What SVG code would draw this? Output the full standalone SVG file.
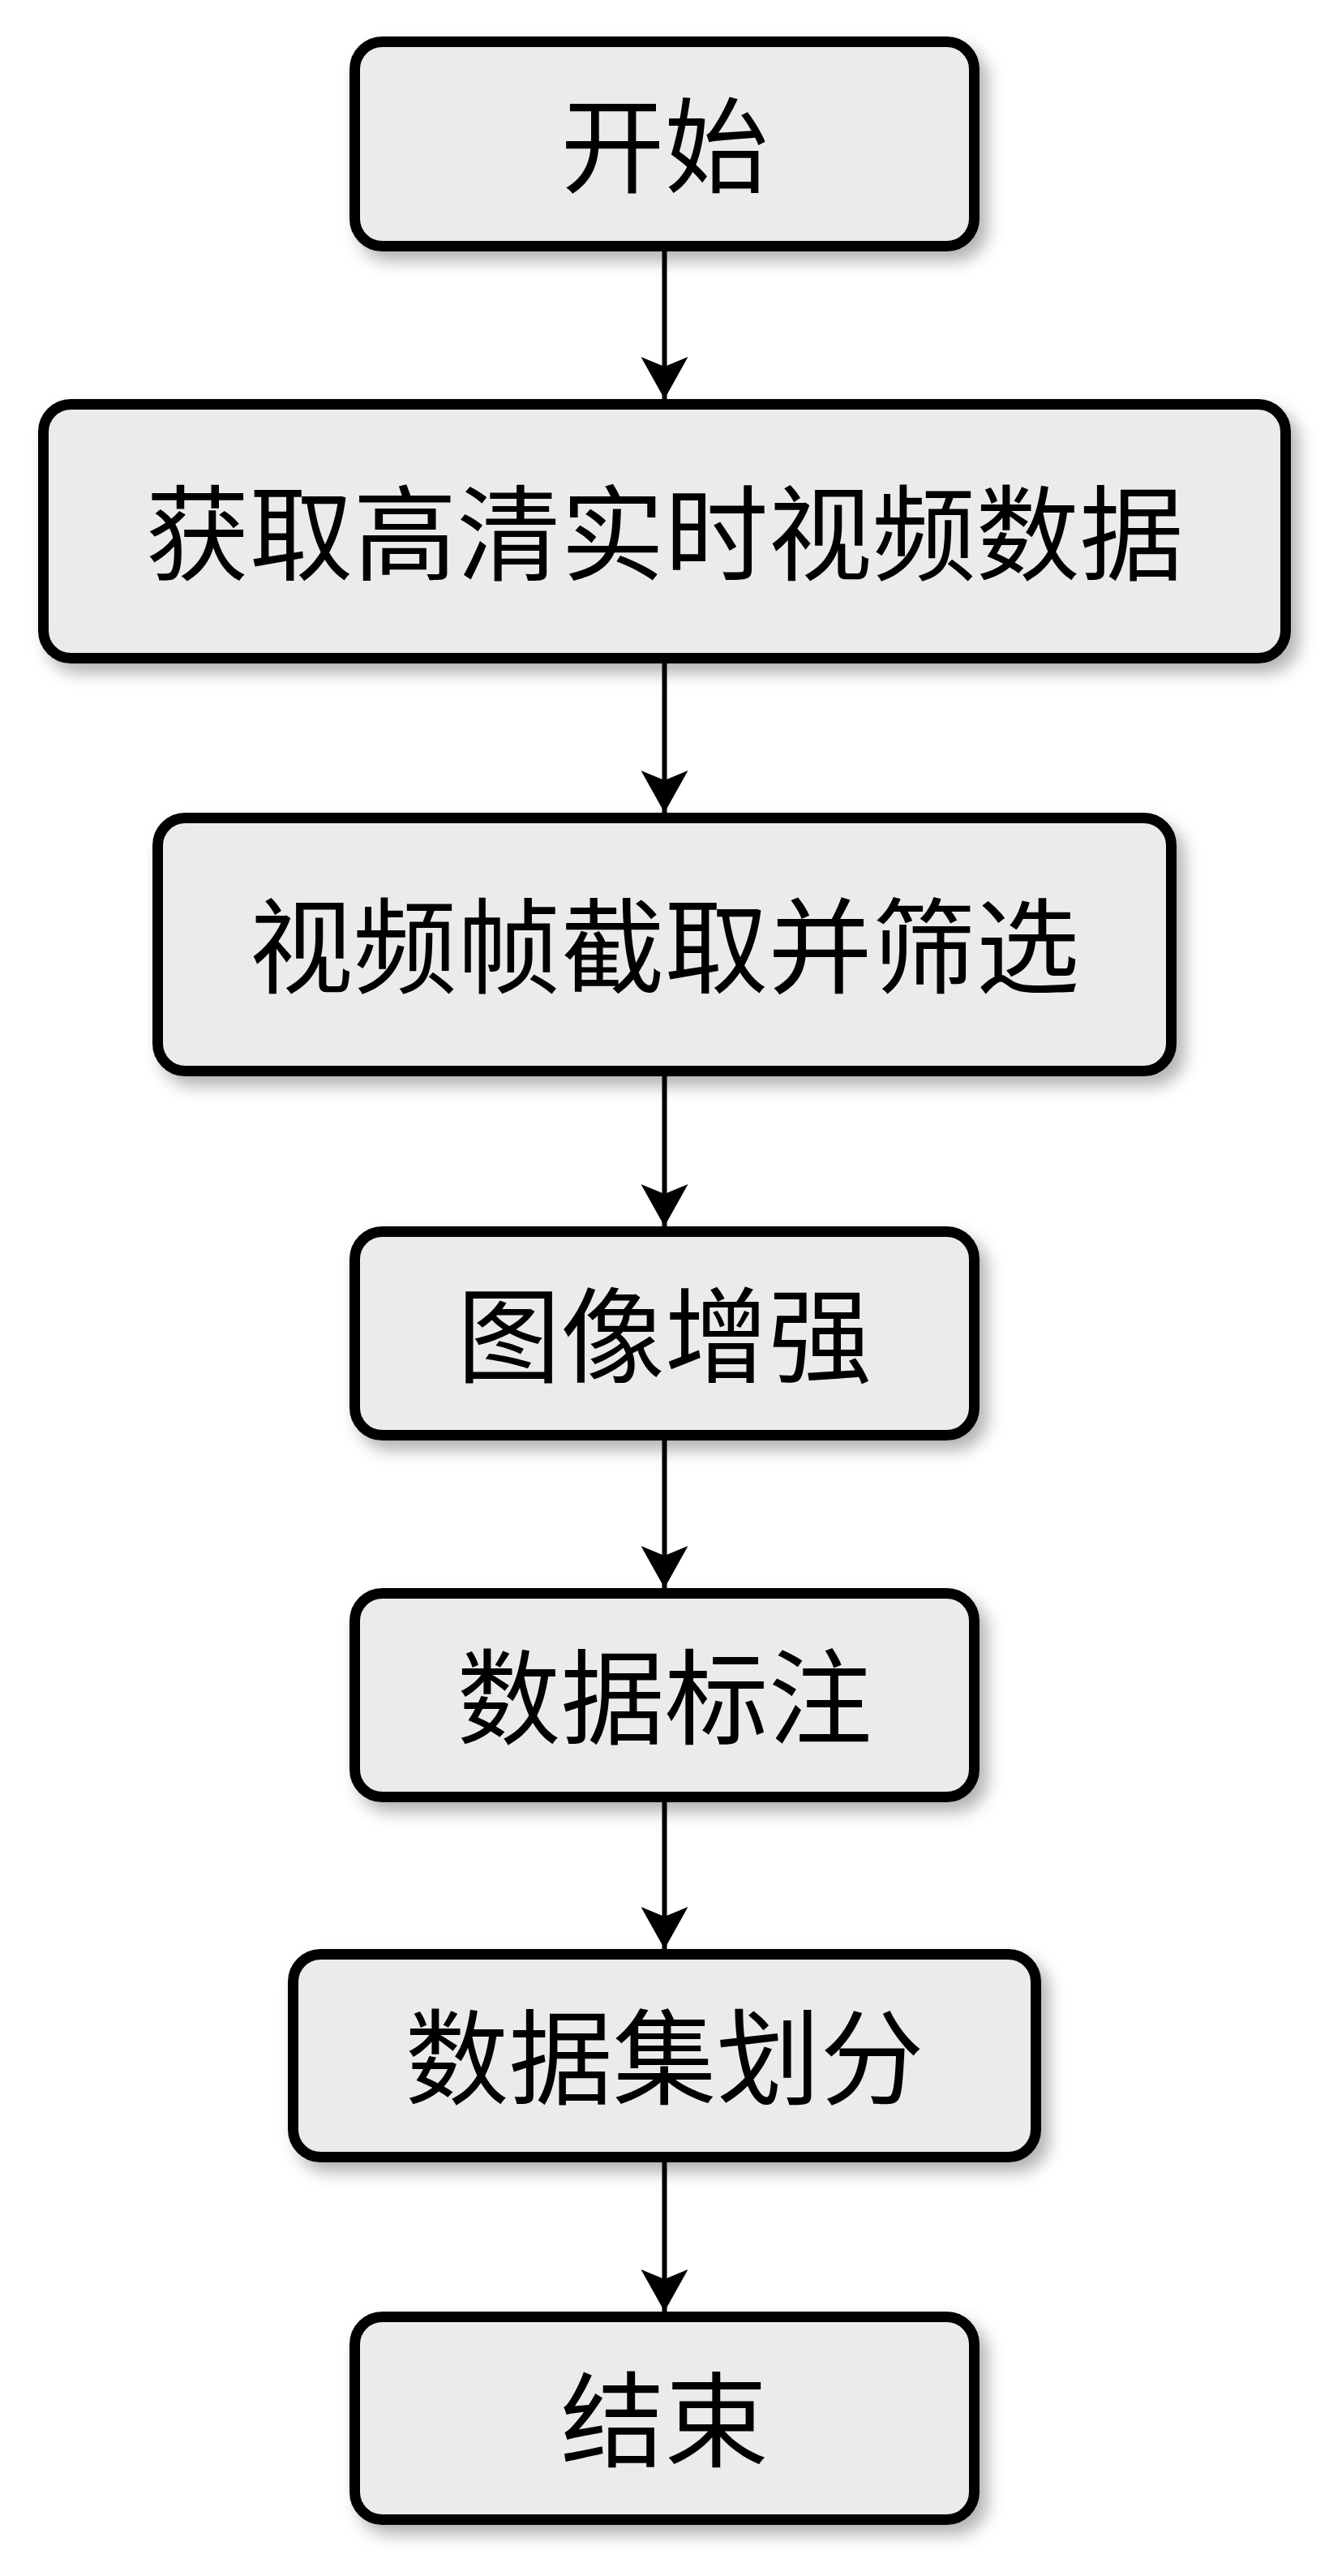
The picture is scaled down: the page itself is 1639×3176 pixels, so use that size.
<svg xmlns="http://www.w3.org/2000/svg" width="1639" height="3176" viewBox="0 0 1639 3176">
<style>
.box{fill:#ebebeb;stroke:#000;stroke-width:13;filter:url(#sh)}
.lbl{font-family:"Noto Sans CJK SC","Noto Sans CJK TC",sans-serif;font-size:128px;fill:#000;text-anchor:middle;dominant-baseline:central}
.conn{stroke:#000;stroke-width:6;fill:none;marker-end:url(#ah)}
</style>
<defs>
<filter id="sh" x="-10%" y="-20%" width="130%" height="160%">
<feDropShadow dx="10" dy="12" stdDeviation="10" flood-color="#000" flood-opacity="0.3"/>
</filter>
<marker id="ah" viewBox="0 0 52 58" markerWidth="52" markerHeight="58" refX="52" refY="29" orient="auto" markerUnits="userSpaceOnUse">
<path d="M52,29 L0,0 L12,29 L0,58 Z" fill="#000"/>
</marker>
</defs>
<rect width="1639" height="3176" fill="#fff"/>
<g id="connectors">
<line class="conn" x1="819.5" y1="310" x2="819.5" y2="492"/>
<line class="conn" x1="819.5" y1="818" x2="819.5" y2="1002"/>
<line class="conn" x1="819.5" y1="1327" x2="819.5" y2="1512"/>
<line class="conn" x1="819.5" y1="1776" x2="819.5" y2="1958"/>
<line class="conn" x1="819.5" y1="2222" x2="819.5" y2="2403"/>
<line class="conn" x1="819.5" y1="2666" x2="819.5" y2="2850"/>
</g>
<g id="n1"><rect class="box" x="437.5" y="51.5" width="764" height="252" rx="34"/><text class="lbl" x="819.5" y="172.5">开始</text></g>
<g id="n2"><rect class="box" x="53.5" y="498.5" width="1532" height="313" rx="34"/><text class="lbl" x="819.5" y="650">获取高清实时视频数据</text></g>
<g id="n3"><rect class="box" x="194.5" y="1008.5" width="1250" height="312" rx="34"/><text class="lbl" x="819.5" y="1159.5">视频帧截取并筛选</text></g>
<g id="n4"><rect class="box" x="437.5" y="1518.5" width="764" height="251" rx="34"/><text class="lbl" x="819.5" y="1639">图像增强</text></g>
<g id="n5"><rect class="box" x="437.5" y="1964.5" width="764" height="251" rx="34"/><text class="lbl" x="819.5" y="2085">数据标注</text></g>
<g id="n6"><rect class="box" x="361.5" y="2409.5" width="916" height="250" rx="34"/><text class="lbl" x="819.5" y="2529.5">数据集划分</text></g>
<g id="n7"><rect class="box" x="437.5" y="2856.5" width="764" height="250" rx="34"/><text class="lbl" x="819.5" y="2976">结束</text></g>
</svg>
